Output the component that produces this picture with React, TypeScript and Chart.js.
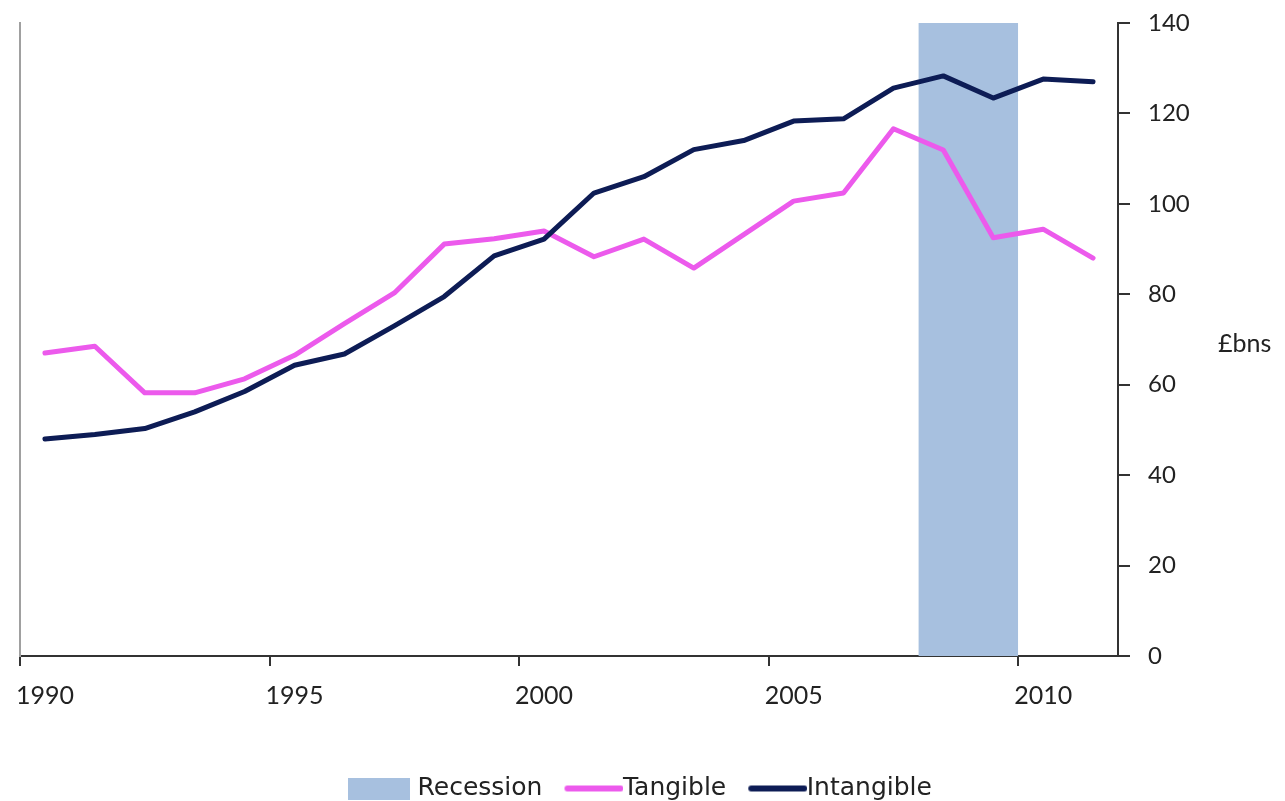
import React, { useEffect, useRef } from 'react';
import { Chart, registerables } from 'chart.js';

Chart.register(...registerables);

const years = [1990, 1991, 1992, 1993, 1994, 1995, 1996, 1997, 1998, 1999, 2000, 2001, 2002, 2003, 2004, 2005, 2006, 2007, 2008, 2009, 2010, 2011];
const tangible = [67, 68.5, 58.2, 58.2, 61.3, 66.5, 73.5, 80.3, 91.1, 92.3, 94, 88.3, 92.2, 85.8, 93.2, 100.6, 102.4, 116.6, 111.9, 92.5, 94.4, 88];
const intangible = [48, 49, 50.3, 54, 58.5, 64.3, 66.8, 73, 79.5, 88.5, 92.2, 102.4, 106, 112, 114, 118.3, 118.8, 125.6, 128.3, 123.4, 127.6, 127];
const recessionYears = [2008, 2010];
const recessionTop = 140;
const xTickYears = [1990, 1995, 2000, 2005, 2010];
const yTickValues = [0, 20, 40, 60, 80, 100, 120, 140];
const seriesNames = ['Recession', 'Tangible', 'Intangible'];
const unitLabel = '£bns';

const COLORS = {
  recession: '#a7c0df',
  tangible: '#ec5aec',
  intangible: '#0d1c55',
  text: '#222222',
  axis: '#333333',
  leftAxis: '#a0a0a0',
};

function makeBox(w: number, h: number, color: string) {
  const c = document.createElement('canvas');
  c.width = w;
  c.height = h;
  const ctx = c.getContext('2d')!;
  ctx.fillStyle = color;
  ctx.fillRect(0, 0, w, h);
  return c;
}

function makeLine(w: number, start: number, thickness: number, color: string) {
  const h = thickness + 2;
  const c = document.createElement('canvas');
  c.width = w;
  c.height = h;
  const ctx = c.getContext('2d')!;
  ctx.strokeStyle = color;
  ctx.lineWidth = thickness;
  ctx.lineCap = 'round';
  ctx.beginPath();
  ctx.moveTo(start + thickness / 2, h / 2);
  ctx.lineTo(w - thickness / 2, h / 2);
  ctx.stroke();
  return c;
}

export default function App() {
  const ref = useRef<HTMLCanvasElement | null>(null);

  useEffect(() => {
    document.body.style.margin = '0';
    document.body.style.overflow = 'hidden';
    const canvas = ref.current;
    if (!canvas) return;

    const icons = [
      makeBox(62, 22, COLORS.recession),
      makeLine(78, 19, 6, COLORS.tangible),
      makeLine(78, 19, 6, COLORS.intangible),
    ];

    // Right-axis tick labels (left-aligned) and the unit label, drawn from the y scale
    const axisTextPlugin = {
      id: 'axisText',
      afterDraw(chart: any) {
        const { ctx, chartArea } = chart;
        const y = chart.scales.y;
        ctx.save();
        ctx.font = '24px Lato';
        ctx.fillStyle = COLORS.text;
        ctx.textAlign = 'left';
        ctx.textBaseline = 'middle';
        y.ticks.forEach((t: any) => {
          ctx.fillText(String(t.value), chartArea.right + 30, y.getPixelForValue(t.value));
        });
        ctx.font = '25px Lato';
        ctx.fillText(unitLabel, chartArea.right + 100, y.getPixelForValue(69));
        ctx.restore();
      },
    };

    const chart = new Chart(canvas, {
      type: 'line',
      data: {
        datasets: [
          {
            label: seriesNames[0],
            data: recessionYears.map((x) => ({ x, y: recessionTop })),
            backgroundColor: COLORS.recession,
            borderWidth: 0,
            borderColor: 'transparent',
            pointRadius: 0,
            fill: 'origin',
            order: 3,
          },
          {
            label: seriesNames[1],
            data: years.map((yr, i) => ({ x: yr + 0.5, y: tangible[i] })),
            borderColor: COLORS.tangible,
            backgroundColor: COLORS.tangible,
            borderWidth: 5,
            pointRadius: 0,
            tension: 0,
            borderCapStyle: 'round',
            borderJoinStyle: 'round',
            fill: false,
            order: 2,
          },
          {
            label: seriesNames[2],
            data: years.map((yr, i) => ({ x: yr + 0.5, y: intangible[i] })),
            borderColor: COLORS.intangible,
            backgroundColor: COLORS.intangible,
            borderWidth: 5,
            pointRadius: 0,
            tension: 0,
            borderCapStyle: 'round',
            borderJoinStyle: 'round',
            fill: false,
            order: 1,
          },
        ],
      },
      options: {
        responsive: false,
        animation: false,
        events: [],
        layout: { padding: { top: 23, bottom: -10, left: 0, right: 0 } },
        scales: {
          x: {
            type: 'linear',
            min: 1990,
            max: 2012,
            afterBuildTicks: (s: any) => {
              s.ticks = xTickYears.map((v) => ({ value: v }));
            },
            afterFit: (s: any) => {
              s.height = 104;
              s.paddingLeft = 0;
              s.paddingRight = 0;
            },
            ticks: {
              callback: (v: any) => String(v),
              font: { family: 'Lato', size: 25 },
              color: COLORS.text,
              labelOffset: 25,
              padding: 15,
              maxRotation: 0,
              autoSkip: false,
            },
            grid: {
              drawOnChartArea: false,
              drawTicks: true,
              tickLength: 10,
              color: COLORS.axis,
              lineWidth: 2,
            },
            border: { display: true, color: COLORS.axis, width: 2 },
          },
          y: {
            type: 'linear',
            position: 'right',
            min: 0,
            max: 140,
            afterBuildTicks: (s: any) => {
              s.ticks = yTickValues.map((v) => ({ value: v }));
            },
            afterFit: (s: any) => {
              s.width = 167;
              s.paddingTop = 0;
              s.paddingBottom = 0;
            },
            ticks: {
              display: false,
            },
            grid: {
              drawOnChartArea: false,
              drawTicks: true,
              tickLength: 12,
              color: COLORS.axis,
              lineWidth: 2,
            },
            border: { display: true, color: COLORS.axis, width: 2 },
          },
          yL: {
            type: 'linear',
            position: 'left',
            min: 0,
            max: 140,
            afterFit: (s: any) => {
              s.width = 20;
              s.paddingTop = 0;
              s.paddingBottom = 0;
            },
            ticks: { display: false },
            grid: { drawOnChartArea: false, drawTicks: false },
            border: { display: true, color: COLORS.leftAxis, width: 2 },
          },
        },
        plugins: {
          tooltip: { enabled: false },
          title: { display: false },
          legend: {
            display: true,
            position: 'bottom',
            labels: {
              usePointStyle: true,
              pointStyleWidth: 52,
              padding: 16,
              font: { family: 'DejaVu Sans', size: 25 },
              color: COLORS.text,
              generateLabels: (c: any) =>
                c.data.datasets.map((ds: any, i: number) => ({
                  text: ds.label,
                  pointStyle: icons[i],
                  datasetIndex: i,
                  hidden: false,
                  fontColor: COLORS.text,
                  fillStyle: 'transparent',
                  strokeStyle: 'transparent',
                  lineWidth: 0,
                })),
            },
          },
        },
      },
      plugins: [axisTextPlugin],
    } as any);

    return () => {
      chart.destroy();
    };
  }, []);

  return (
    <div style={{ width: 1285, height: 801 }}>
      <canvas ref={ref} width={1285} height={801} style={{ display: 'block' }} />
    </div>
  );
}
